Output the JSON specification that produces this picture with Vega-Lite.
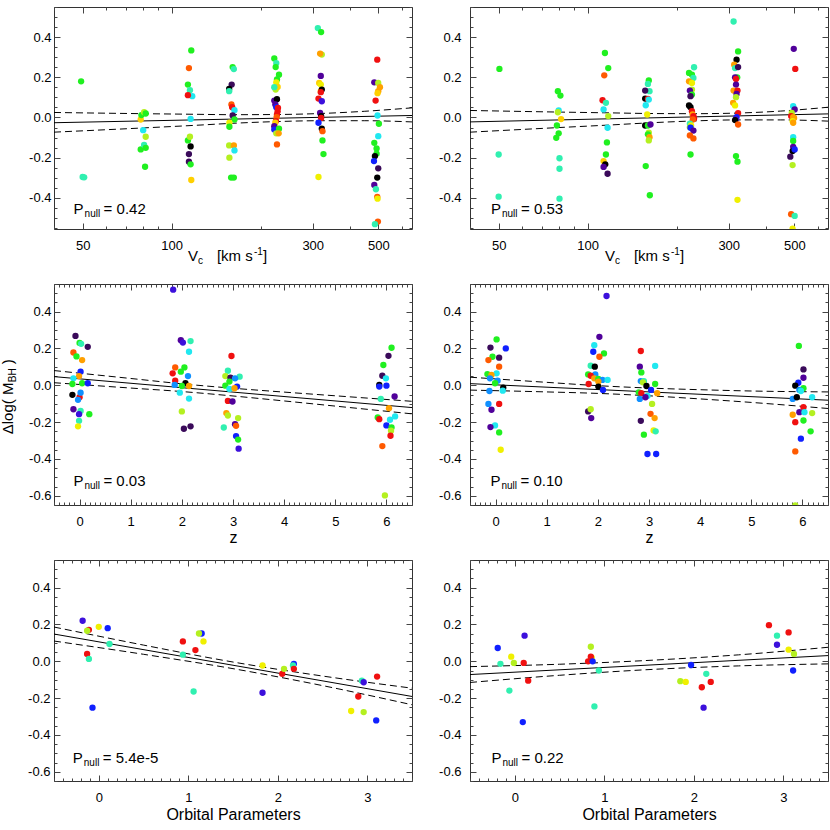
{
"$schema":"https://vega.github.io/schema/vega-lite/v6.json",
"background":"white",
"padding":{"left":0,"top":6,"right":3,"bottom":3},
"config":{
 "view":{"stroke":"#333","strokeWidth":1},
 "axis":{"domain":false,"grid":false,"tickColor":"#444","tickWidth":1,"labelFont":"Liberation Sans","labelFontSize":13,"labelColor":"#000","titleFont":"Liberation Sans","titleFontSize":16,"titleFontWeight":"normal","titleColor":"#000","labelFlush":false,"labelOverlap":false},
 "text":{"font":"Liberation Sans","color":"#000"}
},
"datasets":{
"pts":[
{"p":1,"x":49.4,"y":0.180,"c":"gr"},{"p":1,"x":50.0,"y":-0.296,"c":"tq"},{"p":1,"x":50.6,"y":-0.298,"c":"tq"},
{"p":1,"x":78.6,"y":-0.010,"c":"go"},{"p":1,"x":79.0,"y":0.012,"c":"gr"},{"p":1,"x":80.7,"y":0.026,"c":"yg"},{"p":1,"x":81.7,"y":0.020,"c":"gr"},{"p":1,"x":80.1,"y":-0.063,"c":"cy"},{"p":1,"x":78.6,"y":-0.159,"c":"gr"},{"p":1,"x":80.7,"y":-0.137,"c":"tq"},{"p":1,"x":81.7,"y":-0.151,"c":"gr"},{"p":1,"x":81.7,"y":-0.096,"c":"yg"},{"p":1,"x":81.3,"y":-0.245,"c":"gr"},
{"p":1,"x":116.5,"y":0.334,"c":"gr"},{"p":1,"x":114.4,"y":0.246,"c":"ro"},{"p":1,"x":113.5,"y":0.164,"c":"gr"},{"p":1,"x":115.3,"y":0.136,"c":"tq"},{"p":1,"x":117.4,"y":0.106,"c":"cy"},{"p":1,"x":113.5,"y":0.111,"c":"rd"},{"p":1,"x":115.9,"y":-0.007,"c":"cy"},{"p":1,"x":113.5,"y":-0.114,"c":"gr"},{"p":1,"x":115.3,"y":-0.096,"c":"yg"},{"p":1,"x":115.9,"y":-0.144,"c":"k"},{"p":1,"x":114.4,"y":-0.182,"c":"dp"},{"p":1,"x":114.4,"y":-0.220,"c":"dp"},{"p":1,"x":115.9,"y":-0.233,"c":"gr"},{"p":1,"x":116.5,"y":-0.311,"c":"go"},
{"p":1,"x":160.8,"y":0.251,"c":"gr"},{"p":1,"x":162.3,"y":0.241,"c":"tq"},{"p":1,"x":159.6,"y":0.164,"c":"dp"},{"p":1,"x":156.5,"y":0.142,"c":"k"},{"p":1,"x":156.5,"y":0.131,"c":"tq"},{"p":1,"x":159.3,"y":0.065,"c":"ro"},{"p":1,"x":160.2,"y":0.051,"c":"rd"},{"p":1,"x":163.1,"y":0.036,"c":"cy"},{"p":1,"x":160.8,"y":0.010,"c":"dp"},{"p":1,"x":163.1,"y":-0.010,"c":"gr"},{"p":1,"x":156.8,"y":-0.026,"c":"ye"},{"p":1,"x":156.8,"y":-0.046,"c":"gr"},{"p":1,"x":156.5,"y":-0.139,"c":"yg"},{"p":1,"x":162.3,"y":-0.139,"c":"or"},{"p":1,"x":163.1,"y":-0.164,"c":"cy"},{"p":1,"x":156.8,"y":-0.200,"c":"yg"},{"p":1,"x":158.9,"y":-0.299,"c":"gr"},{"p":1,"x":162.3,"y":-0.299,"c":"gr"},
{"p":1,"x":222.4,"y":0.294,"c":"gr"},{"p":1,"x":225.9,"y":0.271,"c":"tq"},{"p":1,"x":224.8,"y":0.251,"c":"gr"},{"p":1,"x":230.7,"y":0.213,"c":"gr"},{"p":1,"x":227.1,"y":0.189,"c":"gr"},{"p":1,"x":225.9,"y":0.175,"c":"ye"},{"p":1,"x":224.8,"y":0.139,"c":"yg"},{"p":1,"x":228.3,"y":0.152,"c":"go"},{"p":1,"x":222.4,"y":0.151,"c":"tq"},{"p":1,"x":222.4,"y":0.084,"c":"pu"},{"p":1,"x":227.1,"y":0.091,"c":"k"},{"p":1,"x":224.2,"y":0.065,"c":"pu"},{"p":1,"x":225.9,"y":0.051,"c":"bl"},{"p":1,"x":228.9,"y":0.048,"c":"rd"},{"p":1,"x":228.3,"y":0.031,"c":"rd"},{"p":1,"x":227.1,"y":0.015,"c":"rd"},{"p":1,"x":226.5,"y":0.002,"c":"ro"},{"p":1,"x":225.3,"y":-0.018,"c":"rd"},{"p":1,"x":224.2,"y":-0.026,"c":"go"},{"p":1,"x":222.4,"y":-0.043,"c":"pu"},{"p":1,"x":222.4,"y":-0.060,"c":"bl"},{"p":1,"x":230.7,"y":-0.056,"c":"gr"},{"p":1,"x":225.9,"y":-0.079,"c":"yg"},{"p":1,"x":230.1,"y":-0.079,"c":"or"},{"p":1,"x":227.1,"y":-0.134,"c":"ro"},
{"p":1,"x":312.2,"y":0.445,"c":"tq"},{"p":1,"x":320.3,"y":0.425,"c":"gr"},{"p":1,"x":322.0,"y":0.313,"c":"yg"},{"p":1,"x":317.8,"y":0.318,"c":"or"},{"p":1,"x":319.5,"y":0.207,"c":"pu"},{"p":1,"x":315.5,"y":0.172,"c":"go"},{"p":1,"x":319.5,"y":0.164,"c":"ye"},{"p":1,"x":319.5,"y":0.131,"c":"ye"},{"p":1,"x":322.0,"y":0.139,"c":"k"},{"p":1,"x":319.5,"y":0.126,"c":"rd"},{"p":1,"x":313.8,"y":0.094,"c":"rd"},{"p":1,"x":322.0,"y":0.081,"c":"bv"},{"p":1,"x":317.8,"y":0.023,"c":"pu"},{"p":1,"x":320.3,"y":0.007,"c":"k"},{"p":1,"x":320.3,"y":-0.002,"c":"rd"},{"p":1,"x":313.8,"y":-0.026,"c":"bl"},{"p":1,"x":322.0,"y":-0.055,"c":"k"},{"p":1,"x":323.7,"y":-0.068,"c":"ro"},{"p":1,"x":323.7,"y":-0.114,"c":"gr"},{"p":1,"x":326.2,"y":-0.182,"c":"gr"},{"p":1,"x":313.8,"y":-0.296,"c":"ye"},
{"p":1,"x":495.9,"y":0.288,"c":"rd"},{"p":1,"x":484.6,"y":0.175,"c":"pu"},{"p":1,"x":499.7,"y":0.172,"c":"yg"},{"p":1,"x":506.4,"y":0.151,"c":"or"},{"p":1,"x":499.7,"y":0.131,"c":"or"},{"p":1,"x":497.1,"y":0.121,"c":"go"},{"p":1,"x":489.6,"y":0.084,"c":"rd"},{"p":1,"x":497.1,"y":0.010,"c":"cy"},{"p":1,"x":502.3,"y":-0.031,"c":"gr"},{"p":1,"x":499.7,"y":-0.093,"c":"cy"},{"p":1,"x":484.6,"y":-0.126,"c":"gr"},{"p":1,"x":493.3,"y":-0.154,"c":"gr"},{"p":1,"x":493.3,"y":-0.180,"c":"gr"},{"p":1,"x":487.0,"y":-0.192,"c":"k"},{"p":1,"x":483.4,"y":-0.217,"c":"bl"},{"p":1,"x":499.7,"y":-0.253,"c":"dp"},{"p":1,"x":495.9,"y":-0.299,"c":"k"},{"p":1,"x":484.6,"y":-0.336,"c":"pu"},{"p":1,"x":490.8,"y":-0.357,"c":"tq"},{"p":1,"x":495.9,"y":-0.395,"c":"ro"},{"p":1,"x":497.1,"y":-0.404,"c":"ye"},{"p":1,"x":498.4,"y":-0.518,"c":"ro"},{"p":1,"x":487.0,"y":-0.531,"c":"tq"},
{"p":2,"x":50.3,"y":0.242,"c":"gr"},{"p":2,"x":50.0,"y":-0.184,"c":"tq"},{"p":2,"x":50.0,"y":-0.394,"c":"tq"},
{"p":2,"x":79.3,"y":0.131,"c":"gr"},{"p":2,"x":80.9,"y":0.109,"c":"gr"},{"p":2,"x":79.8,"y":0.035,"c":"cy"},{"p":2,"x":79.3,"y":0.026,"c":"yg"},{"p":2,"x":81.3,"y":-0.008,"c":"go"},{"p":2,"x":78.7,"y":-0.040,"c":"gr"},{"p":2,"x":79.8,"y":-0.079,"c":"gr"},{"p":2,"x":78.3,"y":-0.101,"c":"gr"},{"p":2,"x":80.3,"y":-0.203,"c":"tq"},{"p":2,"x":80.3,"y":-0.255,"c":"tq"},{"p":2,"x":80.3,"y":-0.404,"c":"tq"},
{"p":2,"x":114.4,"y":0.321,"c":"gr"},{"p":2,"x":117.4,"y":0.246,"c":"gr"},{"p":2,"x":113.8,"y":0.210,"c":"ro"},{"p":2,"x":112.3,"y":0.086,"c":"rd"},{"p":2,"x":115.3,"y":0.073,"c":"tq"},{"p":2,"x":113.2,"y":0.040,"c":"cy"},{"p":2,"x":117.4,"y":0.007,"c":"yg"},{"p":2,"x":116.8,"y":-0.051,"c":"cy"},{"p":2,"x":116.2,"y":-0.124,"c":"gr"},{"p":2,"x":115.3,"y":-0.184,"c":"gr"},{"p":2,"x":113.2,"y":-0.217,"c":"go"},{"p":2,"x":114.7,"y":-0.233,"c":"k"},{"p":2,"x":113.2,"y":-0.246,"c":"pu"},{"p":2,"x":116.8,"y":-0.280,"c":"dp"},
{"p":2,"x":161.0,"y":0.184,"c":"gr"},{"p":2,"x":159.9,"y":0.167,"c":"tq"},{"p":2,"x":161.9,"y":0.131,"c":"tq"},{"p":2,"x":156.5,"y":0.134,"c":"dp"},{"p":2,"x":156.5,"y":0.094,"c":"k"},{"p":2,"x":159.9,"y":0.093,"c":"rd"},{"p":2,"x":161.0,"y":0.089,"c":"cy"},{"p":2,"x":157.2,"y":0.061,"c":"cy"},{"p":2,"x":159.0,"y":0.015,"c":"ye"},{"p":2,"x":156.5,"y":-0.040,"c":"k"},{"p":2,"x":159.9,"y":-0.040,"c":"gr"},{"p":2,"x":163.1,"y":-0.035,"c":"pu"},{"p":2,"x":161.0,"y":-0.076,"c":"yg"},{"p":2,"x":159.9,"y":-0.084,"c":"gr"},{"p":2,"x":161.9,"y":-0.098,"c":"or"},{"p":2,"x":161.0,"y":-0.114,"c":"yg"},{"p":2,"x":157.2,"y":-0.242,"c":"gr"},{"p":2,"x":162.3,"y":-0.387,"c":"gr"},
{"p":2,"x":220.2,"y":0.222,"c":"gr"},{"p":2,"x":225.3,"y":0.213,"c":"gr"},{"p":2,"x":229.0,"y":0.250,"c":"tq"},{"p":2,"x":227.9,"y":0.197,"c":"tq"},{"p":2,"x":220.2,"y":0.180,"c":"or"},{"p":2,"x":225.3,"y":0.172,"c":"ye"},{"p":2,"x":225.3,"y":0.139,"c":"yg"},{"p":2,"x":221.7,"y":0.134,"c":"pu"},{"p":2,"x":225.3,"y":0.114,"c":"gr"},{"p":2,"x":222.8,"y":0.106,"c":"dp"},{"p":2,"x":220.2,"y":0.060,"c":"k"},{"p":2,"x":222.8,"y":0.051,"c":"k"},{"p":2,"x":225.3,"y":0.031,"c":"rd"},{"p":2,"x":226.4,"y":0.015,"c":"or"},{"p":2,"x":227.9,"y":0.007,"c":"rd"},{"p":2,"x":229.0,"y":-0.005,"c":"rd"},{"p":2,"x":226.9,"y":-0.010,"c":"ro"},{"p":2,"x":221.7,"y":-0.031,"c":"tq"},{"p":2,"x":223.8,"y":-0.040,"c":"ye"},{"p":2,"x":221.7,"y":-0.048,"c":"yg"},{"p":2,"x":222.8,"y":-0.051,"c":"bl"},{"p":2,"x":227.9,"y":-0.065,"c":"pu"},{"p":2,"x":221.7,"y":-0.089,"c":"ro"},{"p":2,"x":227.9,"y":-0.104,"c":"ro"},{"p":2,"x":222.8,"y":-0.184,"c":"gr"},
{"p":2,"x":311.6,"y":0.478,"c":"tq"},{"p":2,"x":322.7,"y":0.329,"c":"gr"},{"p":2,"x":318.9,"y":0.288,"c":"k"},{"p":2,"x":313.1,"y":0.263,"c":"or"},{"p":2,"x":315.2,"y":0.246,"c":"tq"},{"p":2,"x":322.7,"y":0.251,"c":"dp"},{"p":2,"x":320.5,"y":0.200,"c":"gr"},{"p":2,"x":315.2,"y":0.200,"c":"pu"},{"p":2,"x":317.5,"y":0.192,"c":"rd"},{"p":2,"x":317.5,"y":0.164,"c":"pu"},{"p":2,"x":311.6,"y":0.134,"c":"or"},{"p":2,"x":321.2,"y":0.134,"c":"rd"},{"p":2,"x":318.9,"y":0.117,"c":"pu"},{"p":2,"x":317.5,"y":0.101,"c":"yg"},{"p":2,"x":310.5,"y":0.073,"c":"or"},{"p":2,"x":315.2,"y":0.060,"c":"ye"},{"p":2,"x":322.7,"y":0.022,"c":"rd"},{"p":2,"x":318.9,"y":0.002,"c":"bl"},{"p":2,"x":317.5,"y":-0.007,"c":"bv"},{"p":2,"x":315.2,"y":-0.013,"c":"k"},{"p":2,"x":322.7,"y":-0.035,"c":"ro"},{"p":2,"x":317.5,"y":-0.192,"c":"gr"},{"p":2,"x":321.2,"y":-0.220,"c":"gr"},{"p":2,"x":321.2,"y":-0.410,"c":"ye"},
{"p":2,"x":497.9,"y":0.342,"c":"pu"},{"p":2,"x":503.7,"y":0.242,"c":"rd"},{"p":2,"x":495.6,"y":0.056,"c":"cy"},{"p":2,"x":501.4,"y":0.040,"c":"pu"},{"p":2,"x":490.1,"y":0.023,"c":"yg"},{"p":2,"x":487.8,"y":0.007,"c":"rd"},{"p":2,"x":495.6,"y":0.002,"c":"or"},{"p":2,"x":499.1,"y":-0.002,"c":"or"},{"p":2,"x":493.3,"y":-0.018,"c":"ye"},{"p":2,"x":495.6,"y":-0.026,"c":"or"},{"p":2,"x":495.6,"y":-0.098,"c":"cy"},{"p":2,"x":495.6,"y":-0.117,"c":"gr"},{"p":2,"x":495.6,"y":-0.146,"c":"pu"},{"p":2,"x":493.3,"y":-0.167,"c":"k"},{"p":2,"x":501.4,"y":-0.159,"c":"bl"},{"p":2,"x":484.6,"y":-0.195,"c":"dp"},{"p":2,"x":493.3,"y":-0.237,"c":"yg"},{"p":2,"x":487.8,"y":-0.481,"c":"ro"},{"p":2,"x":501.4,"y":-0.490,"c":"tq"},{"p":2,"x":493.3,"y":-0.553,"c":"ye"},
{"p":3,"x":-0.08,"y":0.268,"c":"dp"},{"p":3,"x":0.00,"y":0.230,"c":"gr"},{"p":3,"x":0.03,"y":0.225,"c":"tq"},{"p":3,"x":-0.12,"y":0.178,"c":"ro"},{"p":3,"x":-0.06,"y":0.157,"c":"gr"},{"p":3,"x":0.05,"y":0.137,"c":"or"},{"p":3,"x":0.16,"y":0.209,"c":"dp"},{"p":3,"x":0.02,"y":0.074,"c":"bl"},{"p":3,"x":-0.01,"y":0.050,"c":"or"},{"p":3,"x":-0.12,"y":0.038,"c":"cy"},{"p":3,"x":-0.14,"y":0.007,"c":"gr"},{"p":3,"x":0.05,"y":0.011,"c":"gr"},{"p":3,"x":0.16,"y":0.011,"c":"bl"},{"p":3,"x":-0.14,"y":-0.052,"c":"k"},{"p":3,"x":0.00,"y":-0.065,"c":"rd"},{"p":3,"x":-0.03,"y":-0.079,"c":"az"},{"p":3,"x":0.02,"y":-0.040,"c":"az"},{"p":3,"x":-0.12,"y":-0.130,"c":"pu"},{"p":3,"x":0.02,"y":-0.139,"c":"tq"},{"p":3,"x":-0.01,"y":-0.157,"c":"bv"},{"p":3,"x":0.19,"y":-0.157,"c":"gr"},{"p":3,"x":-0.01,"y":-0.193,"c":"tq"},{"p":3,"x":-0.03,"y":-0.223,"c":"ye"},
{"p":3,"x":1.83,"y":0.519,"c":"bv"},{"p":3,"x":1.98,"y":0.245,"c":"pu"},{"p":3,"x":2.02,"y":0.232,"c":"bv"},{"p":3,"x":2.17,"y":0.240,"c":"tq"},{"p":3,"x":2.14,"y":0.182,"c":"cy"},{"p":3,"x":1.87,"y":0.097,"c":"ro"},{"p":3,"x":2.05,"y":0.097,"c":"gr"},{"p":3,"x":1.98,"y":0.074,"c":"gr"},{"p":3,"x":1.82,"y":0.065,"c":"rd"},{"p":3,"x":2.12,"y":0.050,"c":"az"},{"p":3,"x":1.87,"y":0.025,"c":"rd"},{"p":3,"x":1.86,"y":0.002,"c":"az"},{"p":3,"x":2.07,"y":0.011,"c":"k"},{"p":3,"x":2.00,"y":-0.004,"c":"gr"},{"p":3,"x":2.14,"y":-0.004,"c":"or"},{"p":3,"x":1.96,"y":-0.040,"c":"cy"},{"p":3,"x":2.14,"y":-0.072,"c":"cy"},{"p":3,"x":2.00,"y":-0.142,"c":"yg"},{"p":3,"x":2.04,"y":-0.236,"c":"dp"},{"p":3,"x":2.17,"y":-0.223,"c":"dp"},
{"p":3,"x":2.97,"y":0.159,"c":"rd"},{"p":3,"x":2.90,"y":0.079,"c":"tq"},{"p":3,"x":2.85,"y":0.050,"c":"yg"},{"p":3,"x":2.95,"y":0.041,"c":"dp"},{"p":3,"x":3.13,"y":0.047,"c":"tq"},{"p":3,"x":3.04,"y":0.038,"c":"az"},{"p":3,"x":2.93,"y":0.020,"c":"gr"},{"p":3,"x":2.85,"y":-0.002,"c":"gr"},{"p":3,"x":2.93,"y":-0.020,"c":"cy"},{"p":3,"x":3.08,"y":-0.007,"c":"bl"},{"p":3,"x":3.03,"y":-0.016,"c":"or"},{"p":3,"x":2.90,"y":-0.085,"c":"rd"},{"p":3,"x":2.99,"y":-0.088,"c":"pu"},{"p":3,"x":2.87,"y":-0.151,"c":"or"},{"p":3,"x":2.90,"y":-0.164,"c":"yg"},{"p":3,"x":3.10,"y":-0.178,"c":"yg"},{"p":3,"x":2.82,"y":-0.229,"c":"tq"},{"p":3,"x":3.04,"y":-0.211,"c":"pu"},{"p":3,"x":3.06,"y":-0.220,"c":"ro"},{"p":3,"x":3.06,"y":-0.276,"c":"bl"},{"p":3,"x":3.10,"y":-0.295,"c":"gr"},{"p":3,"x":3.11,"y":-0.344,"c":"bv"},
{"p":3,"x":6.10,"y":0.204,"c":"gr"},{"p":3,"x":6.04,"y":0.160,"c":"dp"},{"p":3,"x":5.94,"y":0.110,"c":"gr"},{"p":3,"x":5.92,"y":0.052,"c":"dp"},{"p":3,"x":5.99,"y":0.038,"c":"cy"},{"p":3,"x":5.86,"y":0.002,"c":"k"},{"p":3,"x":5.86,"y":-0.007,"c":"bl"},{"p":3,"x":6.00,"y":-0.002,"c":"bl"},{"p":3,"x":6.16,"y":-0.061,"c":"pu"},{"p":3,"x":5.89,"y":-0.074,"c":"tq"},{"p":3,"x":6.05,"y":-0.124,"c":"or"},{"p":3,"x":5.83,"y":-0.175,"c":"gr"},{"p":3,"x":5.86,"y":-0.184,"c":"rd"},{"p":3,"x":6.17,"y":-0.169,"c":"cy"},{"p":3,"x":6.07,"y":-0.187,"c":"cy"},{"p":3,"x":6.00,"y":-0.218,"c":"bl"},{"p":3,"x":6.10,"y":-0.229,"c":"gr"},{"p":3,"x":6.09,"y":-0.247,"c":"yg"},{"p":3,"x":6.08,"y":-0.274,"c":"rd"},{"p":3,"x":5.92,"y":-0.330,"c":"ro"},{"p":3,"x":5.97,"y":-0.598,"c":"yg"},
{"p":4,"x":0.02,"y":0.249,"c":"gr"},{"p":4,"x":-0.10,"y":0.205,"c":"dp"},{"p":4,"x":0.20,"y":0.200,"c":"bl"},{"p":4,"x":-0.06,"y":0.155,"c":"gr"},{"p":4,"x":0.07,"y":0.150,"c":"dp"},{"p":4,"x":-0.14,"y":0.137,"c":"ro"},{"p":4,"x":0.07,"y":0.101,"c":"ro"},{"p":4,"x":0.02,"y":0.065,"c":"cy"},{"p":4,"x":-0.16,"y":0.061,"c":"gr"},{"p":4,"x":-0.08,"y":0.056,"c":"or"},{"p":4,"x":-0.11,"y":0.038,"c":"az"},{"p":4,"x":0.04,"y":0.025,"c":"az"},{"p":4,"x":-0.01,"y":0.011,"c":"gr"},{"p":4,"x":0.15,"y":-0.013,"c":"k"},{"p":4,"x":0.14,"y":-0.029,"c":"cy"},{"p":4,"x":-0.12,"y":-0.031,"c":"az"},{"p":4,"x":-0.14,"y":-0.101,"c":"az"},{"p":4,"x":0.07,"y":-0.101,"c":"rd"},{"p":4,"x":-0.08,"y":-0.133,"c":"pu"},{"p":4,"x":-0.01,"y":-0.218,"c":"cy"},{"p":4,"x":-0.10,"y":-0.227,"c":"pu"},{"p":4,"x":0.07,"y":-0.256,"c":"gr"},{"p":4,"x":0.10,"y":-0.350,"c":"ye"},
{"p":4,"x":2.17,"y":0.485,"c":"bv"},{"p":4,"x":2.03,"y":0.263,"c":"pu"},{"p":4,"x":1.93,"y":0.218,"c":"cy"},{"p":4,"x":1.91,"y":0.182,"c":"bl"},{"p":4,"x":2.12,"y":0.173,"c":"gr"},{"p":4,"x":2.03,"y":0.155,"c":"ro"},{"p":4,"x":1.86,"y":0.106,"c":"tq"},{"p":4,"x":1.94,"y":0.101,"c":"k"},{"p":4,"x":1.95,"y":0.059,"c":"az"},{"p":4,"x":1.81,"y":0.059,"c":"gr"},{"p":4,"x":1.86,"y":0.052,"c":"rd"},{"p":4,"x":1.93,"y":0.038,"c":"or"},{"p":4,"x":2.01,"y":0.034,"c":"gr"},{"p":4,"x":2.09,"y":0.029,"c":"az"},{"p":4,"x":2.19,"y":0.029,"c":"cy"},{"p":4,"x":2.01,"y":0.020,"c":"or"},{"p":4,"x":1.82,"y":0.007,"c":"rd"},{"p":4,"x":2.01,"y":-0.007,"c":"k"},{"p":4,"x":2.10,"y":-0.025,"c":"bl"},{"p":4,"x":1.81,"y":-0.142,"c":"dp"},{"p":4,"x":1.86,"y":-0.130,"c":"yg"},{"p":4,"x":1.87,"y":-0.178,"c":"pu"},
{"p":4,"x":2.84,"y":0.186,"c":"rd"},{"p":4,"x":2.82,"y":0.101,"c":"pu"},{"p":4,"x":3.12,"y":0.105,"c":"cy"},{"p":4,"x":2.85,"y":0.070,"c":"gr"},{"p":4,"x":2.84,"y":0.023,"c":"az"},{"p":4,"x":2.90,"y":0.023,"c":"tq"},{"p":4,"x":2.88,"y":0.016,"c":"yg"},{"p":4,"x":3.12,"y":0.007,"c":"gr"},{"p":4,"x":2.95,"y":-0.004,"c":"k"},{"p":4,"x":3.04,"y":-0.025,"c":"bl"},{"p":4,"x":2.80,"y":-0.038,"c":"gr"},{"p":4,"x":2.85,"y":-0.043,"c":"rd"},{"p":4,"x":3.16,"y":-0.043,"c":"or"},{"p":4,"x":2.97,"y":-0.058,"c":"cy"},{"p":4,"x":2.82,"y":-0.074,"c":"az"},{"p":4,"x":2.93,"y":-0.065,"c":"pu"},{"p":4,"x":3.06,"y":-0.101,"c":"yg"},{"p":4,"x":3.03,"y":-0.155,"c":"ro"},{"p":4,"x":3.11,"y":-0.178,"c":"or"},{"p":4,"x":2.84,"y":-0.193,"c":"dp"},{"p":4,"x":3.09,"y":-0.245,"c":"ye"},{"p":4,"x":3.13,"y":-0.250,"c":"tq"},{"p":4,"x":2.90,"y":-0.268,"c":"gr"},{"p":4,"x":2.97,"y":-0.373,"c":"bl"},{"p":4,"x":3.14,"y":-0.373,"c":"bl"},
{"p":4,"x":5.93,"y":0.214,"c":"gr"},{"p":4,"x":6.02,"y":0.086,"c":"dp"},{"p":4,"x":6.02,"y":0.041,"c":"pu"},{"p":4,"x":5.92,"y":0.014,"c":"bl"},{"p":4,"x":5.86,"y":-0.002,"c":"k"},{"p":4,"x":6.02,"y":-0.016,"c":"gr"},{"p":4,"x":5.94,"y":-0.025,"c":"az"},{"p":4,"x":5.97,"y":-0.031,"c":"cy"},{"p":4,"x":6.19,"y":-0.065,"c":"cy"},{"p":4,"x":5.81,"y":-0.074,"c":"az"},{"p":4,"x":5.89,"y":-0.065,"c":"k"},{"p":4,"x":6.02,"y":-0.119,"c":"rd"},{"p":4,"x":5.94,"y":-0.146,"c":"pu"},{"p":4,"x":6.04,"y":-0.146,"c":"cy"},{"p":4,"x":5.81,"y":-0.160,"c":"or"},{"p":4,"x":6.02,"y":-0.191,"c":"gr"},{"p":4,"x":6.19,"y":-0.151,"c":"yg"},{"p":4,"x":5.86,"y":-0.200,"c":"rd"},{"p":4,"x":6.16,"y":-0.250,"c":"gr"},{"p":4,"x":5.97,"y":-0.290,"c":"bl"},{"p":4,"x":5.86,"y":-0.359,"c":"ro"},{"p":4,"x":5.86,"y":-0.652,"c":"yg"},
{"p":5,"x":-0.18,"y":0.220,"c":"bv"},{"p":5,"x":-0.11,"y":0.171,"c":"rd"},{"p":5,"x":-0.13,"y":0.166,"c":"yg"},{"p":5,"x":0.00,"y":0.187,"c":"ye"},{"p":5,"x":0.10,"y":0.180,"c":"bl"},{"p":5,"x":0.12,"y":0.094,"c":"tq"},{"p":5,"x":-0.13,"y":0.040,"c":"rd"},{"p":5,"x":-0.11,"y":0.013,"c":"tq"},{"p":5,"x":-0.07,"y":-0.252,"c":"bl"},{"p":5,"x":0.94,"y":0.108,"c":"rd"},{"p":5,"x":0.94,"y":0.036,"c":"tq"},{"p":5,"x":1.08,"y":0.061,"c":"rd"},{"p":5,"x":1.15,"y":0.151,"c":"bl"},{"p":5,"x":1.12,"y":0.151,"c":"yg"},{"p":5,"x":1.17,"y":0.108,"c":"ye"},{"p":5,"x":1.06,"y":-0.164,"c":"tq"},{"p":5,"x":1.83,"y":-0.023,"c":"ye"},{"p":5,"x":1.83,"y":-0.171,"c":"bv"},{"p":5,"x":2.05,"y":-0.068,"c":"rd"},{"p":5,"x":2.07,"y":-0.041,"c":"yg"},{"p":5,"x":2.18,"y":-0.014,"c":"bl"},{"p":5,"x":2.17,"y":-0.023,"c":"tq"},{"p":5,"x":2.18,"y":-0.041,"c":"rd"},{"p":5,"x":2.94,"y":-0.105,"c":"tq"},{"p":5,"x":2.96,"y":-0.114,"c":"bv"},{"p":5,"x":3.11,"y":-0.083,"c":"rd"},{"p":5,"x":2.90,"y":-0.191,"c":"rd"},{"p":5,"x":2.82,"y":-0.270,"c":"ye"},{"p":5,"x":2.96,"y":-0.276,"c":"yg"},{"p":5,"x":3.10,"y":-0.321,"c":"bl"},
{"p":6,"x":-0.19,"y":0.072,"c":"bl"},{"p":6,"x":-0.16,"y":-0.014,"c":"tq"},{"p":6,"x":-0.04,"y":0.025,"c":"ye"},{"p":6,"x":-0.01,"y":-0.009,"c":"yg"},{"p":6,"x":-0.06,"y":-0.159,"c":"tq"},{"p":6,"x":0.11,"y":0.139,"c":"bv"},{"p":6,"x":0.10,"y":-0.009,"c":"rd"},{"p":6,"x":0.15,"y":-0.105,"c":"rd"},{"p":6,"x":0.09,"y":-0.330,"c":"bl"},{"p":6,"x":0.85,"y":0.079,"c":"yg"},{"p":6,"x":0.86,"y":0.020,"c":"ye"},{"p":6,"x":0.82,"y":0.000,"c":"rd"},{"p":6,"x":0.85,"y":0.025,"c":"rd"},{"p":6,"x":0.87,"y":0.000,"c":"bl"},{"p":6,"x":0.94,"y":-0.050,"c":"tq"},{"p":6,"x":0.89,"y":-0.245,"c":"tq"},{"p":6,"x":1.97,"y":-0.020,"c":"bl"},{"p":6,"x":1.85,"y":-0.108,"c":"yg"},{"p":6,"x":1.91,"y":-0.112,"c":"ye"},{"p":6,"x":2.14,"y":-0.068,"c":"tq"},{"p":6,"x":2.09,"y":-0.141,"c":"rd"},{"p":6,"x":2.19,"y":-0.112,"c":"rd"},{"p":6,"x":2.11,"y":-0.252,"c":"bv"},{"p":6,"x":2.84,"y":0.196,"c":"rd"},{"p":6,"x":2.93,"y":0.139,"c":"tq"},{"p":6,"x":3.06,"y":0.157,"c":"rd"},{"p":6,"x":2.93,"y":0.090,"c":"bv"},{"p":6,"x":3.06,"y":0.063,"c":"ye"},{"p":6,"x":3.12,"y":0.040,"c":"yg"},{"p":6,"x":3.11,"y":-0.050,"c":"bl"}
],
"fit":[
{"p":1,"s":"fit","x":40,"y":-0.026},{"p":1,"s":"fit","x":650,"y":0.010},
{"p":1,"s":"up","x":40,"y":0.025},{"p":1,"s":"up","x":80,"y":0.019},{"p":1,"s":"up","x":120,"y":0.016},{"p":1,"s":"up","x":160,"y":0.014},{"p":1,"s":"up","x":230,"y":0.015},{"p":1,"s":"up","x":320,"y":0.020},{"p":1,"s":"up","x":450,"y":0.031},{"p":1,"s":"up","x":650,"y":0.048},
{"p":1,"s":"lo","x":40,"y":-0.073},{"p":1,"s":"lo","x":80,"y":-0.052},{"p":1,"s":"lo","x":120,"y":-0.039},{"p":1,"s":"lo","x":160,"y":-0.029},{"p":1,"s":"lo","x":230,"y":-0.020},{"p":1,"s":"lo","x":320,"y":-0.016},{"p":1,"s":"lo","x":450,"y":-0.016},{"p":1,"s":"lo","x":650,"y":-0.022},
{"p":2,"s":"fit","x":40,"y":-0.022},{"p":2,"s":"fit","x":650,"y":0.018},
{"p":2,"s":"up","x":40,"y":0.035},{"p":2,"s":"up","x":80,"y":0.027},{"p":2,"s":"up","x":120,"y":0.023},{"p":2,"s":"up","x":160,"y":0.020},{"p":2,"s":"up","x":230,"y":0.019},{"p":2,"s":"up","x":320,"y":0.022},{"p":2,"s":"up","x":450,"y":0.032},{"p":2,"s":"up","x":650,"y":0.051},
{"p":2,"s":"lo","x":40,"y":-0.073},{"p":2,"s":"lo","x":80,"y":-0.050},{"p":2,"s":"lo","x":120,"y":-0.037},{"p":2,"s":"lo","x":160,"y":-0.027},{"p":2,"s":"lo","x":230,"y":-0.017},{"p":2,"s":"lo","x":320,"y":-0.012},{"p":2,"s":"lo","x":450,"y":-0.012},{"p":2,"s":"lo","x":650,"y":-0.018},
{"p":3,"s":"fit","x":-0.5,"y":0.047},{"p":3,"s":"fit","x":6.5,"y":-0.121},
{"p":3,"s":"up","x":-0.5,"y":0.080},{"p":3,"s":"up","x":1,"y":0.037},{"p":3,"s":"up","x":2,"y":0.008},{"p":3,"s":"up","x":3,"y":-0.016},{"p":3,"s":"up","x":4,"y":-0.037},{"p":3,"s":"up","x":5,"y":-0.057},{"p":3,"s":"up","x":6.5,"y":-0.087},
{"p":3,"s":"lo","x":-0.5,"y":0.014},{"p":3,"s":"lo","x":1,"y":-0.015},{"p":3,"s":"lo","x":2,"y":-0.034},{"p":3,"s":"lo","x":3,"y":-0.058},{"p":3,"s":"lo","x":4,"y":-0.085},{"p":3,"s":"lo","x":5,"y":-0.113},{"p":3,"s":"lo","x":6.5,"y":-0.155},
{"p":4,"s":"fit","x":-0.5,"y":0.009},{"p":4,"s":"fit","x":6.5,"y":-0.081},
{"p":4,"s":"up","x":-0.5,"y":0.044},{"p":4,"s":"up","x":1,"y":0.016},{"p":4,"s":"up","x":2,"y":-0.002},{"p":4,"s":"up","x":3,"y":-0.015},{"p":4,"s":"up","x":4,"y":-0.024},{"p":4,"s":"up","x":5,"y":-0.031},{"p":4,"s":"up","x":6.5,"y":-0.036},
{"p":4,"s":"lo","x":-0.5,"y":-0.026},{"p":4,"s":"lo","x":1,"y":-0.036},{"p":4,"s":"lo","x":2,"y":-0.044},{"p":4,"s":"lo","x":3,"y":-0.057},{"p":4,"s":"lo","x":4,"y":-0.074},{"p":4,"s":"lo","x":5,"y":-0.093},{"p":4,"s":"lo","x":6.5,"y":-0.126},
{"p":5,"s":"fit","x":-0.5,"y":0.148},{"p":5,"s":"fit","x":3.5,"y":-0.191},
{"p":5,"s":"up","x":-0.5,"y":0.186},{"p":5,"s":"up","x":0.5,"y":0.088},{"p":5,"s":"up","x":1.5,"y":-0.004},{"p":5,"s":"up","x":2.5,"y":-0.080},{"p":5,"s":"up","x":3.5,"y":-0.146},
{"p":5,"s":"lo","x":-0.5,"y":0.110},{"p":5,"s":"lo","x":0.5,"y":0.038},{"p":5,"s":"lo","x":1.5,"y":-0.040},{"p":5,"s":"lo","x":2.5,"y":-0.132},{"p":5,"s":"lo","x":3.5,"y":-0.236},
{"p":6,"s":"fit","x":-0.5,"y":-0.072},{"p":6,"s":"fit","x":3.5,"y":0.031},
{"p":6,"s":"up","x":-0.5,"y":-0.029},{"p":6,"s":"up","x":0.5,"y":-0.016},{"p":6,"s":"up","x":1.5,"y":0.005},{"p":6,"s":"up","x":2.5,"y":0.035},{"p":6,"s":"up","x":3.5,"y":0.076},
{"p":6,"s":"lo","x":-0.5,"y":-0.115},{"p":6,"s":"lo","x":0.5,"y":-0.076},{"p":6,"s":"lo","x":1.5,"y":-0.045},{"p":6,"s":"lo","x":2.5,"y":-0.025},{"p":6,"s":"lo","x":3.5,"y":-0.014}
]
},
"columns":2,
"bounds":"flush",
"spacing":{"row":55,"column":58},
"concat":[
{"width":358,"height":222,"resolve":{"axis":{"x":"independent","y":"independent"}},
"layer":[
{"data":{"name":"fit"},"transform":[{"filter":"datum.p==1 && datum.s=='fit'"}],"mark":{"type":"line","color":"#000","strokeWidth":1,"clip":true},
 "encoding":{"x":{"field":"x","type":"quantitative","scale":{"type":"log","domain":[40,650],"nice":false},"axis":{"orient":"bottom","values":[40,60,70,80,90,200,400,600],"tickSize":-3,"labels":false,"title":null}},
 "y":{"field":"y","type":"quantitative","scale":{"domain":[-0.555,0.55],"nice":false,"zero":false},"axis":{"orient":"left","values":[-0.55,-0.5,-0.45,-0.4,-0.35,-0.3,-0.25,-0.2,-0.15,-0.1,-0.05,0,0.05,0.1,0.15,0.2,0.25,0.3,0.35,0.4,0.45,0.5,0.55],"tickSize":-3,"labels":false,"title":null}}}},
{"data":{"name":"fit"},"transform":[{"filter":"datum.p==1 && datum.s!='fit'"}],"mark":{"type":"line","color":"#000","strokeWidth":1,"strokeDash":[7,4],"interpolate":"monotone","clip":true},
 "encoding":{"x":{"field":"x","type":"quantitative","scale":{"type":"log","domain":[40,650],"nice":false},"axis":{"orient":"top","values":[50,100,300,500],"tickSize":-6,"labels":false,"title":null}},
 "y":{"field":"y","type":"quantitative","scale":{"domain":[-0.555,0.55],"nice":false,"zero":false},"axis":{"orient":"right","values":[-0.4,-0.2,0,0.2,0.4],"tickSize":-6,"labels":false,"title":null}},
 "detail":{"field":"s","type":"nominal"}}},
{"data":{"name":"pts"},"transform":[{"filter":"datum.p==1"}],"mark":{"type":"circle","size":40,"opacity":1,"clip":true},
 "encoding":{"x":{"field":"x","type":"quantitative","scale":{"type":"log","domain":[40,650],"nice":false},"axis":{"orient":"bottom","values":[50,100,300,500],"tickSize":-6,"labelPadding":16,"labelExpr":"format(datum.value,'d')","title":null}},
 "y":{"field":"y","type":"quantitative","scale":{"domain":[-0.555,0.55],"nice":false,"zero":false},"axis":{"orient":"left","values":[-0.4,-0.2,0,0.2,0.4],"tickSize":-6,"labelPadding":9,"labelExpr":"replace(format(datum.value,'.1f'),'−','-')","title":null}},
 "color":{"field":"c","type":"nominal","scale":{"domain":["k","dp","pu","bv","bl","az","cy","tq","gr","yg","ye","go","or","ro","rd"],"range":["#000000","#3a0a5a","#50009a","#3c10dc","#1020ff","#1090ff","#20e8f0","#30f0b0","#20f020","#b4f020","#f0f000","#ffd000","#ffa000","#ff5a00","#f01010"]},"legend":null}}},
{"data":{"values":[{}]},"mark":{"type":"text","text":"P","align":"left","baseline":"alphabetic","fontSize":15,"color":"#000"},
 "encoding":{"x":{"datum":46.6,"type":"quantitative","scale":{"type":"log","domain":[40,650],"nice":false},"axis":{"orient":"top","values":[40,60,70,80,90,200,400,600],"tickSize":-3,"labels":false,"title":null}},
 "y":{"datum":-0.481,"type":"quantitative","scale":{"domain":[-0.555,0.55],"nice":false,"zero":false},"axis":{"orient":"right","values":[-0.55,-0.5,-0.45,-0.4,-0.35,-0.3,-0.25,-0.2,-0.15,-0.1,-0.05,0,0.05,0.1,0.15,0.2,0.25,0.3,0.35,0.4,0.45,0.5,0.55],"tickSize":-3,"labels":false,"title":null}}}},
{"data":{"values":[{}]},"mark":{"type":"text","text":"null","align":"left","baseline":"alphabetic","fontSize":10,"dx":11,"dy":3,"color":"#000"},
 "encoding":{"x":{"datum":46.6,"type":"quantitative","axis":null},"y":{"datum":-0.481,"type":"quantitative","axis":null}}},
{"data":{"values":[{}]},"mark":{"type":"text","text":"= 0.42","align":"left","baseline":"alphabetic","fontSize":15,"dx":30,"color":"#000"},
 "encoding":{"x":{"datum":46.6,"type":"quantitative","axis":null},"y":{"datum":-0.481,"type":"quantitative","axis":null}}},
{"data":{"values":[{}]},"mark":{"type":"text","text":"V","align":"left","baseline":"alphabetic","fontSize":15,"color":"#000"},
 "encoding":{"x":{"datum":113.5,"type":"quantitative","axis":null},"y":{"datum":-0.713,"type":"quantitative","axis":null}}},
{"data":{"values":[{}]},"mark":{"type":"text","text":"c","align":"left","baseline":"alphabetic","fontSize":10,"dx":10,"dy":3,"color":"#000"},
 "encoding":{"x":{"datum":113.5,"type":"quantitative","axis":null},"y":{"datum":-0.713,"type":"quantitative","axis":null}}},
{"data":{"values":[{}]},"mark":{"type":"text","text":"[km s","align":"left","baseline":"alphabetic","fontSize":15,"dx":29,"color":"#000"},
 "encoding":{"x":{"datum":113.5,"type":"quantitative","axis":null},"y":{"datum":-0.713,"type":"quantitative","axis":null}}},
{"data":{"values":[{}]},"mark":{"type":"text","text":"-1","align":"left","baseline":"alphabetic","fontSize":10,"dx":66,"dy":-6,"color":"#000"},
 "encoding":{"x":{"datum":113.5,"type":"quantitative","axis":null},"y":{"datum":-0.713,"type":"quantitative","axis":null}}},
{"data":{"values":[{}]},"mark":{"type":"text","text":"]","align":"left","baseline":"alphabetic","fontSize":15,"dx":75,"color":"#000"},
 "encoding":{"x":{"datum":113.5,"type":"quantitative","axis":null},"y":{"datum":-0.713,"type":"quantitative","axis":null}}}
]},
{"width":358,"height":222,"resolve":{"axis":{"x":"independent","y":"independent"}},
"layer":[
{"data":{"name":"fit"},"transform":[{"filter":"datum.p==2 && datum.s=='fit'"}],"mark":{"type":"line","color":"#000","strokeWidth":1,"clip":true},
 "encoding":{"x":{"field":"x","type":"quantitative","scale":{"type":"log","domain":[40,650],"nice":false},"axis":{"orient":"bottom","values":[40,60,70,80,90,200,400,600],"tickSize":-3,"labels":false,"title":null}},
 "y":{"field":"y","type":"quantitative","scale":{"domain":[-0.555,0.55],"nice":false,"zero":false},"axis":{"orient":"left","values":[-0.55,-0.5,-0.45,-0.4,-0.35,-0.3,-0.25,-0.2,-0.15,-0.1,-0.05,0,0.05,0.1,0.15,0.2,0.25,0.3,0.35,0.4,0.45,0.5,0.55],"tickSize":-3,"labels":false,"title":null}}}},
{"data":{"name":"fit"},"transform":[{"filter":"datum.p==2 && datum.s!='fit'"}],"mark":{"type":"line","color":"#000","strokeWidth":1,"strokeDash":[7,4],"interpolate":"monotone","clip":true},
 "encoding":{"x":{"field":"x","type":"quantitative","scale":{"type":"log","domain":[40,650],"nice":false},"axis":{"orient":"top","values":[50,100,300,500],"tickSize":-6,"labels":false,"title":null}},
 "y":{"field":"y","type":"quantitative","scale":{"domain":[-0.555,0.55],"nice":false,"zero":false},"axis":{"orient":"right","values":[-0.4,-0.2,0,0.2,0.4],"tickSize":-6,"labels":false,"title":null}},
 "detail":{"field":"s","type":"nominal"}}},
{"data":{"name":"pts"},"transform":[{"filter":"datum.p==2"}],"mark":{"type":"circle","size":40,"opacity":1,"clip":true},
 "encoding":{"x":{"field":"x","type":"quantitative","scale":{"type":"log","domain":[40,650],"nice":false},"axis":{"orient":"bottom","values":[50,100,300,500],"tickSize":-6,"labelPadding":16,"labelExpr":"format(datum.value,'d')","title":null}},
 "y":{"field":"y","type":"quantitative","scale":{"domain":[-0.555,0.55],"nice":false,"zero":false},"axis":{"orient":"left","values":[-0.4,-0.2,0,0.2,0.4],"tickSize":-6,"labelPadding":15,"labelExpr":"replace(format(datum.value,'.1f'),'−','-')","title":null}},
 "color":{"field":"c","type":"nominal","scale":{"domain":["k","dp","pu","bv","bl","az","cy","tq","gr","yg","ye","go","or","ro","rd"],"range":["#000000","#3a0a5a","#50009a","#3c10dc","#1020ff","#1090ff","#20e8f0","#30f0b0","#20f020","#b4f020","#f0f000","#ffd000","#ffa000","#ff5a00","#f01010"]},"legend":null}}},
{"data":{"values":[{}]},"mark":{"type":"text","text":"P","align":"left","baseline":"alphabetic","fontSize":15,"color":"#000"},
 "encoding":{"x":{"datum":47.1,"type":"quantitative","scale":{"type":"log","domain":[40,650],"nice":false},"axis":{"orient":"top","values":[40,60,70,80,90,200,400,600],"tickSize":-3,"labels":false,"title":null}},
 "y":{"datum":-0.481,"type":"quantitative","scale":{"domain":[-0.555,0.55],"nice":false,"zero":false},"axis":{"orient":"right","values":[-0.55,-0.5,-0.45,-0.4,-0.35,-0.3,-0.25,-0.2,-0.15,-0.1,-0.05,0,0.05,0.1,0.15,0.2,0.25,0.3,0.35,0.4,0.45,0.5,0.55],"tickSize":-3,"labels":false,"title":null}}}},
{"data":{"values":[{}]},"mark":{"type":"text","text":"null","align":"left","baseline":"alphabetic","fontSize":10,"dx":11,"dy":3,"color":"#000"},
 "encoding":{"x":{"datum":47.1,"type":"quantitative","axis":null},"y":{"datum":-0.481,"type":"quantitative","axis":null}}},
{"data":{"values":[{}]},"mark":{"type":"text","text":"= 0.53","align":"left","baseline":"alphabetic","fontSize":15,"dx":30,"color":"#000"},
 "encoding":{"x":{"datum":47.1,"type":"quantitative","axis":null},"y":{"datum":-0.481,"type":"quantitative","axis":null}}},
{"data":{"values":[{}]},"mark":{"type":"text","text":"V","align":"left","baseline":"alphabetic","fontSize":15,"color":"#000"},
 "encoding":{"x":{"datum":114.4,"type":"quantitative","axis":null},"y":{"datum":-0.713,"type":"quantitative","axis":null}}},
{"data":{"values":[{}]},"mark":{"type":"text","text":"c","align":"left","baseline":"alphabetic","fontSize":10,"dx":10,"dy":3,"color":"#000"},
 "encoding":{"x":{"datum":114.4,"type":"quantitative","axis":null},"y":{"datum":-0.713,"type":"quantitative","axis":null}}},
{"data":{"values":[{}]},"mark":{"type":"text","text":"[km s","align":"left","baseline":"alphabetic","fontSize":15,"dx":29,"color":"#000"},
 "encoding":{"x":{"datum":114.4,"type":"quantitative","axis":null},"y":{"datum":-0.713,"type":"quantitative","axis":null}}},
{"data":{"values":[{}]},"mark":{"type":"text","text":"-1","align":"left","baseline":"alphabetic","fontSize":10,"dx":66,"dy":-6,"color":"#000"},
 "encoding":{"x":{"datum":114.4,"type":"quantitative","axis":null},"y":{"datum":-0.713,"type":"quantitative","axis":null}}},
{"data":{"values":[{}]},"mark":{"type":"text","text":"]","align":"left","baseline":"alphabetic","fontSize":15,"dx":75,"color":"#000"},
 "encoding":{"x":{"datum":114.4,"type":"quantitative","axis":null},"y":{"datum":-0.713,"type":"quantitative","axis":null}}}
]},
{"width":358,"height":221,"resolve":{"axis":{"x":"independent","y":"independent"}},
"layer":[
{"data":{"name":"fit"},"transform":[{"filter":"datum.p==3 && datum.s=='fit'"}],"mark":{"type":"line","color":"#000","strokeWidth":1,"clip":true},
 "encoding":{"x":{"field":"x","type":"quantitative","scale":{"domain":[-0.5,6.5],"nice":false,"zero":false},"axis":{"orient":"bottom","values":[-0.5,-0.4,-0.3,-0.2,-0.1,0,0.1,0.2,0.3,0.4,0.5,0.6,0.7,0.8,0.9,1,1.1,1.2,1.3,1.4,1.5,1.6,1.7,1.8,1.9,2,2.1,2.2,2.3,2.4,2.5,2.6,2.7,2.8,2.9,3,3.1,3.2,3.3,3.4,3.5,3.6,3.7,3.8,3.9,4,4.1,4.2,4.3,4.4,4.5,4.6,4.7,4.8,4.9,5,5.1,5.2,5.3,5.4,5.5,5.6,5.7,5.8,5.9,6,6.1,6.2,6.3,6.4,6.5],"tickSize":-3,"labels":false,"title":null}},
 "y":{"field":"y","type":"quantitative","scale":{"domain":[-0.65,0.55],"nice":false,"zero":false},"axis":{"orient":"left","values":[-0.65,-0.6,-0.55,-0.5,-0.45,-0.4,-0.35,-0.3,-0.25,-0.2,-0.15,-0.1,-0.05,0,0.05,0.1,0.15,0.2,0.25,0.3,0.35,0.4,0.45,0.5,0.55],"tickSize":-3,"labels":false,"title":null}}}},
{"data":{"name":"fit"},"transform":[{"filter":"datum.p==3 && datum.s!='fit'"}],"mark":{"type":"line","color":"#000","strokeWidth":1,"strokeDash":[7,4],"interpolate":"monotone","clip":true},
 "encoding":{"x":{"field":"x","type":"quantitative","scale":{"domain":[-0.5,6.5],"nice":false,"zero":false},"axis":{"orient":"top","values":[0,1,2,3,4,5,6],"tickSize":-6,"labels":false,"title":null}},
 "y":{"field":"y","type":"quantitative","scale":{"domain":[-0.65,0.55],"nice":false,"zero":false},"axis":{"orient":"right","values":[-0.6,-0.4,-0.2,0,0.2,0.4],"tickSize":-6,"labels":false,"title":null}},
 "detail":{"field":"s","type":"nominal"}}},
{"data":{"name":"pts"},"transform":[{"filter":"datum.p==3"}],"mark":{"type":"circle","size":40,"opacity":1,"clip":true},
 "encoding":{"x":{"field":"x","type":"quantitative","scale":{"domain":[-0.5,6.5],"nice":false,"zero":false},"axis":{"orient":"bottom","values":[0,1,2,3,4,5,6],"tickSize":-6,"labelPadding":16,"labelExpr":"format(datum.value,'d')","title":"z","titleY":37,"titleBaseline":"alphabetic"}},
 "y":{"field":"y","type":"quantitative","scale":{"domain":[-0.65,0.55],"nice":false,"zero":false},"axis":{"orient":"left","values":[-0.6,-0.4,-0.2,0,0.2,0.4],"tickSize":-6,"labelPadding":9,"labelExpr":"replace(format(datum.value,'.1f'),'−','-')","title":null}},
 "color":{"field":"c","type":"nominal","scale":{"domain":["k","dp","pu","bv","bl","az","cy","tq","gr","yg","ye","go","or","ro","rd"],"range":["#000000","#3a0a5a","#50009a","#3c10dc","#1020ff","#1090ff","#20e8f0","#30f0b0","#20f020","#b4f020","#f0f000","#ffd000","#ffa000","#ff5a00","#f01010"]},"legend":null}}},
{"data":{"values":[{}]},"mark":{"type":"text","text":"P","align":"left","baseline":"alphabetic","fontSize":15,"color":"#000"},
 "encoding":{"x":{"datum":-0.12,"type":"quantitative","scale":{"domain":[-0.5,6.5],"nice":false,"zero":false},"axis":{"orient":"top","values":[-0.5,-0.4,-0.3,-0.2,-0.1,0,0.1,0.2,0.3,0.4,0.5,0.6,0.7,0.8,0.9,1,1.1,1.2,1.3,1.4,1.5,1.6,1.7,1.8,1.9,2,2.1,2.2,2.3,2.4,2.5,2.6,2.7,2.8,2.9,3,3.1,3.2,3.3,3.4,3.5,3.6,3.7,3.8,3.9,4,4.1,4.2,4.3,4.4,4.5,4.6,4.7,4.8,4.9,5,5.1,5.2,5.3,5.4,5.5,5.6,5.7,5.8,5.9,6,6.1,6.2,6.3,6.4,6.5],"tickSize":-3,"labels":false,"title":null}},
 "y":{"datum":-0.549,"type":"quantitative","scale":{"domain":[-0.65,0.55],"nice":false,"zero":false},"axis":{"orient":"right","values":[-0.65,-0.6,-0.55,-0.5,-0.45,-0.4,-0.35,-0.3,-0.25,-0.2,-0.15,-0.1,-0.05,0,0.05,0.1,0.15,0.2,0.25,0.3,0.35,0.4,0.45,0.5,0.55],"tickSize":-3,"labels":false,"title":null}}}},
{"data":{"values":[{}]},"mark":{"type":"text","text":"null","align":"left","baseline":"alphabetic","fontSize":10,"dx":11,"dy":3,"color":"#000"},
 "encoding":{"x":{"datum":-0.12,"type":"quantitative","axis":null},"y":{"datum":-0.549,"type":"quantitative","axis":null}}},
{"data":{"values":[{}]},"mark":{"type":"text","text":"= 0.03","align":"left","baseline":"alphabetic","fontSize":15,"dx":30,"color":"#000"},
 "encoding":{"x":{"datum":-0.12,"type":"quantitative","axis":null},"y":{"datum":-0.549,"type":"quantitative","axis":null}}},
{"data":{"values":[{}]},"mark":{"type":"text","text":"Δlog( M","align":"left","baseline":"alphabetic","fontSize":15,"angle":270,"color":"#000"},
 "encoding":{"x":{"datum":-1.30,"type":"quantitative","axis":null},"y":{"datum":-0.266,"type":"quantitative","axis":null}}},
{"data":{"values":[{}]},"mark":{"type":"text","text":"BH","align":"left","baseline":"alphabetic","fontSize":10,"angle":270,"dx":52,"dy":3,"color":"#000"},
 "encoding":{"x":{"datum":-1.30,"type":"quantitative","axis":null},"y":{"datum":-0.266,"type":"quantitative","axis":null}}},
{"data":{"values":[{}]},"mark":{"type":"text","text":")","align":"left","baseline":"alphabetic","fontSize":15,"angle":270,"dx":70,"color":"#000"},
 "encoding":{"x":{"datum":-1.30,"type":"quantitative","axis":null},"y":{"datum":-0.266,"type":"quantitative","axis":null}}}
]},
{"width":358,"height":221,"resolve":{"axis":{"x":"independent","y":"independent"}},
"layer":[
{"data":{"name":"fit"},"transform":[{"filter":"datum.p==4 && datum.s=='fit'"}],"mark":{"type":"line","color":"#000","strokeWidth":1,"clip":true},
 "encoding":{"x":{"field":"x","type":"quantitative","scale":{"domain":[-0.5,6.5],"nice":false,"zero":false},"axis":{"orient":"bottom","values":[-0.5,-0.4,-0.3,-0.2,-0.1,0,0.1,0.2,0.3,0.4,0.5,0.6,0.7,0.8,0.9,1,1.1,1.2,1.3,1.4,1.5,1.6,1.7,1.8,1.9,2,2.1,2.2,2.3,2.4,2.5,2.6,2.7,2.8,2.9,3,3.1,3.2,3.3,3.4,3.5,3.6,3.7,3.8,3.9,4,4.1,4.2,4.3,4.4,4.5,4.6,4.7,4.8,4.9,5,5.1,5.2,5.3,5.4,5.5,5.6,5.7,5.8,5.9,6,6.1,6.2,6.3,6.4,6.5],"tickSize":-3,"labels":false,"title":null}},
 "y":{"field":"y","type":"quantitative","scale":{"domain":[-0.65,0.55],"nice":false,"zero":false},"axis":{"orient":"left","values":[-0.65,-0.6,-0.55,-0.5,-0.45,-0.4,-0.35,-0.3,-0.25,-0.2,-0.15,-0.1,-0.05,0,0.05,0.1,0.15,0.2,0.25,0.3,0.35,0.4,0.45,0.5,0.55],"tickSize":-3,"labels":false,"title":null}}}},
{"data":{"name":"fit"},"transform":[{"filter":"datum.p==4 && datum.s!='fit'"}],"mark":{"type":"line","color":"#000","strokeWidth":1,"strokeDash":[7,4],"interpolate":"monotone","clip":true},
 "encoding":{"x":{"field":"x","type":"quantitative","scale":{"domain":[-0.5,6.5],"nice":false,"zero":false},"axis":{"orient":"top","values":[0,1,2,3,4,5,6],"tickSize":-6,"labels":false,"title":null}},
 "y":{"field":"y","type":"quantitative","scale":{"domain":[-0.65,0.55],"nice":false,"zero":false},"axis":{"orient":"right","values":[-0.6,-0.4,-0.2,0,0.2,0.4],"tickSize":-6,"labels":false,"title":null}},
 "detail":{"field":"s","type":"nominal"}}},
{"data":{"name":"pts"},"transform":[{"filter":"datum.p==4"}],"mark":{"type":"circle","size":40,"opacity":1,"clip":true},
 "encoding":{"x":{"field":"x","type":"quantitative","scale":{"domain":[-0.5,6.5],"nice":false,"zero":false},"axis":{"orient":"bottom","values":[0,1,2,3,4,5,6],"tickSize":-6,"labelPadding":16,"labelExpr":"format(datum.value,'d')","title":"z","titleY":37,"titleBaseline":"alphabetic"}},
 "y":{"field":"y","type":"quantitative","scale":{"domain":[-0.65,0.55],"nice":false,"zero":false},"axis":{"orient":"left","values":[-0.6,-0.4,-0.2,0,0.2,0.4],"tickSize":-6,"labelPadding":15,"labelExpr":"replace(format(datum.value,'.1f'),'−','-')","title":null}},
 "color":{"field":"c","type":"nominal","scale":{"domain":["k","dp","pu","bv","bl","az","cy","tq","gr","yg","ye","go","or","ro","rd"],"range":["#000000","#3a0a5a","#50009a","#3c10dc","#1020ff","#1090ff","#20e8f0","#30f0b0","#20f020","#b4f020","#f0f000","#ffd000","#ffa000","#ff5a00","#f01010"]},"legend":null}}},
{"data":{"values":[{}]},"mark":{"type":"text","text":"P","align":"left","baseline":"alphabetic","fontSize":15,"color":"#000"},
 "encoding":{"x":{"datum":-0.10,"type":"quantitative","scale":{"domain":[-0.5,6.5],"nice":false,"zero":false},"axis":{"orient":"top","values":[-0.5,-0.4,-0.3,-0.2,-0.1,0,0.1,0.2,0.3,0.4,0.5,0.6,0.7,0.8,0.9,1,1.1,1.2,1.3,1.4,1.5,1.6,1.7,1.8,1.9,2,2.1,2.2,2.3,2.4,2.5,2.6,2.7,2.8,2.9,3,3.1,3.2,3.3,3.4,3.5,3.6,3.7,3.8,3.9,4,4.1,4.2,4.3,4.4,4.5,4.6,4.7,4.8,4.9,5,5.1,5.2,5.3,5.4,5.5,5.6,5.7,5.8,5.9,6,6.1,6.2,6.3,6.4,6.5],"tickSize":-3,"labels":false,"title":null}},
 "y":{"datum":-0.549,"type":"quantitative","scale":{"domain":[-0.65,0.55],"nice":false,"zero":false},"axis":{"orient":"right","values":[-0.65,-0.6,-0.55,-0.5,-0.45,-0.4,-0.35,-0.3,-0.25,-0.2,-0.15,-0.1,-0.05,0,0.05,0.1,0.15,0.2,0.25,0.3,0.35,0.4,0.45,0.5,0.55],"tickSize":-3,"labels":false,"title":null}}}},
{"data":{"values":[{}]},"mark":{"type":"text","text":"null","align":"left","baseline":"alphabetic","fontSize":10,"dx":11,"dy":3,"color":"#000"},
 "encoding":{"x":{"datum":-0.10,"type":"quantitative","axis":null},"y":{"datum":-0.549,"type":"quantitative","axis":null}}},
{"data":{"values":[{}]},"mark":{"type":"text","text":"= 0.10","align":"left","baseline":"alphabetic","fontSize":15,"dx":30,"color":"#000"},
 "encoding":{"x":{"datum":-0.10,"type":"quantitative","axis":null},"y":{"datum":-0.549,"type":"quantitative","axis":null}}}
]},
{"width":358,"height":221,"resolve":{"axis":{"x":"independent","y":"independent"}},
"layer":[
{"data":{"name":"fit"},"transform":[{"filter":"datum.p==5 && datum.s=='fit'"}],"mark":{"type":"line","color":"#000","strokeWidth":1,"clip":true},
 "encoding":{"x":{"field":"x","type":"quantitative","scale":{"domain":[-0.5,3.5],"nice":false,"zero":false},"axis":{"orient":"bottom","values":[-0.5,-0.4,-0.3,-0.2,-0.1,0,0.1,0.2,0.3,0.4,0.5,0.6,0.7,0.8,0.9,1,1.1,1.2,1.3,1.4,1.5,1.6,1.7,1.8,1.9,2,2.1,2.2,2.3,2.4,2.5,2.6,2.7,2.8,2.9,3,3.1,3.2,3.3,3.4,3.5],"tickSize":-3,"labels":false,"title":null}},
 "y":{"field":"y","type":"quantitative","scale":{"domain":[-0.65,0.55],"nice":false,"zero":false},"axis":{"orient":"left","values":[-0.65,-0.6,-0.55,-0.5,-0.45,-0.4,-0.35,-0.3,-0.25,-0.2,-0.15,-0.1,-0.05,0,0.05,0.1,0.15,0.2,0.25,0.3,0.35,0.4,0.45,0.5,0.55],"tickSize":-3,"labels":false,"title":null}}}},
{"data":{"name":"fit"},"transform":[{"filter":"datum.p==5 && datum.s!='fit'"}],"mark":{"type":"line","color":"#000","strokeWidth":1,"strokeDash":[7,4],"interpolate":"monotone","clip":true},
 "encoding":{"x":{"field":"x","type":"quantitative","scale":{"domain":[-0.5,3.5],"nice":false,"zero":false},"axis":{"orient":"top","values":[0,1,2,3],"tickSize":-6,"labels":false,"title":null}},
 "y":{"field":"y","type":"quantitative","scale":{"domain":[-0.65,0.55],"nice":false,"zero":false},"axis":{"orient":"right","values":[-0.6,-0.4,-0.2,0,0.2,0.4],"tickSize":-6,"labels":false,"title":null}},
 "detail":{"field":"s","type":"nominal"}}},
{"data":{"name":"pts"},"transform":[{"filter":"datum.p==5"}],"mark":{"type":"circle","size":40,"opacity":1,"clip":true},
 "encoding":{"x":{"field":"x","type":"quantitative","scale":{"domain":[-0.5,3.5],"nice":false,"zero":false},"axis":{"orient":"bottom","values":[0,1,2,3],"tickSize":-6,"labelPadding":16,"labelExpr":"format(datum.value,'d')","title":"Orbital Parameters","titleY":38,"titleBaseline":"alphabetic"}},
 "y":{"field":"y","type":"quantitative","scale":{"domain":[-0.65,0.55],"nice":false,"zero":false},"axis":{"orient":"left","values":[-0.6,-0.4,-0.2,0,0.2,0.4],"tickSize":-6,"labelPadding":10,"labelExpr":"replace(format(datum.value,'.1f'),'−','-')","title":null}},
 "color":{"field":"c","type":"nominal","scale":{"domain":["k","dp","pu","bv","bl","az","cy","tq","gr","yg","ye","go","or","ro","rd"],"range":["#000000","#3a0a5a","#50009a","#3c10dc","#1020ff","#1090ff","#20e8f0","#30f0b0","#20f020","#b4f020","#f0f000","#ffd000","#ffa000","#ff5a00","#f01010"]},"legend":null}}},
{"data":{"values":[{}]},"mark":{"type":"text","text":"P","align":"left","baseline":"alphabetic","fontSize":15,"color":"#000"},
 "encoding":{"x":{"datum":-0.29,"type":"quantitative","scale":{"domain":[-0.5,3.5],"nice":false,"zero":false},"axis":{"orient":"top","values":[-0.5,-0.4,-0.3,-0.2,-0.1,0,0.1,0.2,0.3,0.4,0.5,0.6,0.7,0.8,0.9,1,1.1,1.2,1.3,1.4,1.5,1.6,1.7,1.8,1.9,2,2.1,2.2,2.3,2.4,2.5,2.6,2.7,2.8,2.9,3,3.1,3.2,3.3,3.4,3.5],"tickSize":-3,"labels":false,"title":null}},
 "y":{"datum":-0.551,"type":"quantitative","scale":{"domain":[-0.65,0.55],"nice":false,"zero":false},"axis":{"orient":"right","values":[-0.65,-0.6,-0.55,-0.5,-0.45,-0.4,-0.35,-0.3,-0.25,-0.2,-0.15,-0.1,-0.05,0,0.05,0.1,0.15,0.2,0.25,0.3,0.35,0.4,0.45,0.5,0.55],"tickSize":-3,"labels":false,"title":null}}}},
{"data":{"values":[{}]},"mark":{"type":"text","text":"null","align":"left","baseline":"alphabetic","fontSize":10,"dx":11,"dy":3,"color":"#000"},
 "encoding":{"x":{"datum":-0.29,"type":"quantitative","axis":null},"y":{"datum":-0.551,"type":"quantitative","axis":null}}},
{"data":{"values":[{}]},"mark":{"type":"text","text":"= 5.4e-5","align":"left","baseline":"alphabetic","fontSize":15,"dx":30,"color":"#000"},
 "encoding":{"x":{"datum":-0.29,"type":"quantitative","axis":null},"y":{"datum":-0.551,"type":"quantitative","axis":null}}}
]},
{"width":358,"height":221,"resolve":{"axis":{"x":"independent","y":"independent"}},
"layer":[
{"data":{"name":"fit"},"transform":[{"filter":"datum.p==6 && datum.s=='fit'"}],"mark":{"type":"line","color":"#000","strokeWidth":1,"clip":true},
 "encoding":{"x":{"field":"x","type":"quantitative","scale":{"domain":[-0.5,3.5],"nice":false,"zero":false},"axis":{"orient":"bottom","values":[-0.5,-0.4,-0.3,-0.2,-0.1,0,0.1,0.2,0.3,0.4,0.5,0.6,0.7,0.8,0.9,1,1.1,1.2,1.3,1.4,1.5,1.6,1.7,1.8,1.9,2,2.1,2.2,2.3,2.4,2.5,2.6,2.7,2.8,2.9,3,3.1,3.2,3.3,3.4,3.5],"tickSize":-3,"labels":false,"title":null}},
 "y":{"field":"y","type":"quantitative","scale":{"domain":[-0.65,0.55],"nice":false,"zero":false},"axis":{"orient":"left","values":[-0.65,-0.6,-0.55,-0.5,-0.45,-0.4,-0.35,-0.3,-0.25,-0.2,-0.15,-0.1,-0.05,0,0.05,0.1,0.15,0.2,0.25,0.3,0.35,0.4,0.45,0.5,0.55],"tickSize":-3,"labels":false,"title":null}}}},
{"data":{"name":"fit"},"transform":[{"filter":"datum.p==6 && datum.s!='fit'"}],"mark":{"type":"line","color":"#000","strokeWidth":1,"strokeDash":[7,4],"interpolate":"monotone","clip":true},
 "encoding":{"x":{"field":"x","type":"quantitative","scale":{"domain":[-0.5,3.5],"nice":false,"zero":false},"axis":{"orient":"top","values":[0,1,2,3],"tickSize":-6,"labels":false,"title":null}},
 "y":{"field":"y","type":"quantitative","scale":{"domain":[-0.65,0.55],"nice":false,"zero":false},"axis":{"orient":"right","values":[-0.6,-0.4,-0.2,0,0.2,0.4],"tickSize":-6,"labels":false,"title":null}},
 "detail":{"field":"s","type":"nominal"}}},
{"data":{"name":"pts"},"transform":[{"filter":"datum.p==6"}],"mark":{"type":"circle","size":40,"opacity":1,"clip":true},
 "encoding":{"x":{"field":"x","type":"quantitative","scale":{"domain":[-0.5,3.5],"nice":false,"zero":false},"axis":{"orient":"bottom","values":[0,1,2,3],"tickSize":-6,"labelPadding":16,"labelExpr":"format(datum.value,'d')","title":"Orbital Parameters","titleY":38,"titleBaseline":"alphabetic"}},
 "y":{"field":"y","type":"quantitative","scale":{"domain":[-0.65,0.55],"nice":false,"zero":false},"axis":{"orient":"left","values":[-0.6,-0.4,-0.2,0,0.2,0.4],"tickSize":-6,"labelPadding":15,"labelExpr":"replace(format(datum.value,'.1f'),'−','-')","title":null}},
 "color":{"field":"c","type":"nominal","scale":{"domain":["k","dp","pu","bv","bl","az","cy","tq","gr","yg","ye","go","or","ro","rd"],"range":["#000000","#3a0a5a","#50009a","#3c10dc","#1020ff","#1090ff","#20e8f0","#30f0b0","#20f020","#b4f020","#f0f000","#ffd000","#ffa000","#ff5a00","#f01010"]},"legend":null}}},
{"data":{"values":[{}]},"mark":{"type":"text","text":"P","align":"left","baseline":"alphabetic","fontSize":15,"color":"#000"},
 "encoding":{"x":{"datum":-0.26,"type":"quantitative","scale":{"domain":[-0.5,3.5],"nice":false,"zero":false},"axis":{"orient":"top","values":[-0.5,-0.4,-0.3,-0.2,-0.1,0,0.1,0.2,0.3,0.4,0.5,0.6,0.7,0.8,0.9,1,1.1,1.2,1.3,1.4,1.5,1.6,1.7,1.8,1.9,2,2.1,2.2,2.3,2.4,2.5,2.6,2.7,2.8,2.9,3,3.1,3.2,3.3,3.4,3.5],"tickSize":-3,"labels":false,"title":null}},
 "y":{"datum":-0.551,"type":"quantitative","scale":{"domain":[-0.65,0.55],"nice":false,"zero":false},"axis":{"orient":"right","values":[-0.65,-0.6,-0.55,-0.5,-0.45,-0.4,-0.35,-0.3,-0.25,-0.2,-0.15,-0.1,-0.05,0,0.05,0.1,0.15,0.2,0.25,0.3,0.35,0.4,0.45,0.5,0.55],"tickSize":-3,"labels":false,"title":null}}}},
{"data":{"values":[{}]},"mark":{"type":"text","text":"null","align":"left","baseline":"alphabetic","fontSize":10,"dx":11,"dy":3,"color":"#000"},
 "encoding":{"x":{"datum":-0.26,"type":"quantitative","axis":null},"y":{"datum":-0.551,"type":"quantitative","axis":null}}},
{"data":{"values":[{}]},"mark":{"type":"text","text":"= 0.22","align":"left","baseline":"alphabetic","fontSize":15,"dx":30,"color":"#000"},
 "encoding":{"x":{"datum":-0.26,"type":"quantitative","axis":null},"y":{"datum":-0.551,"type":"quantitative","axis":null}}}
]}
]
}
